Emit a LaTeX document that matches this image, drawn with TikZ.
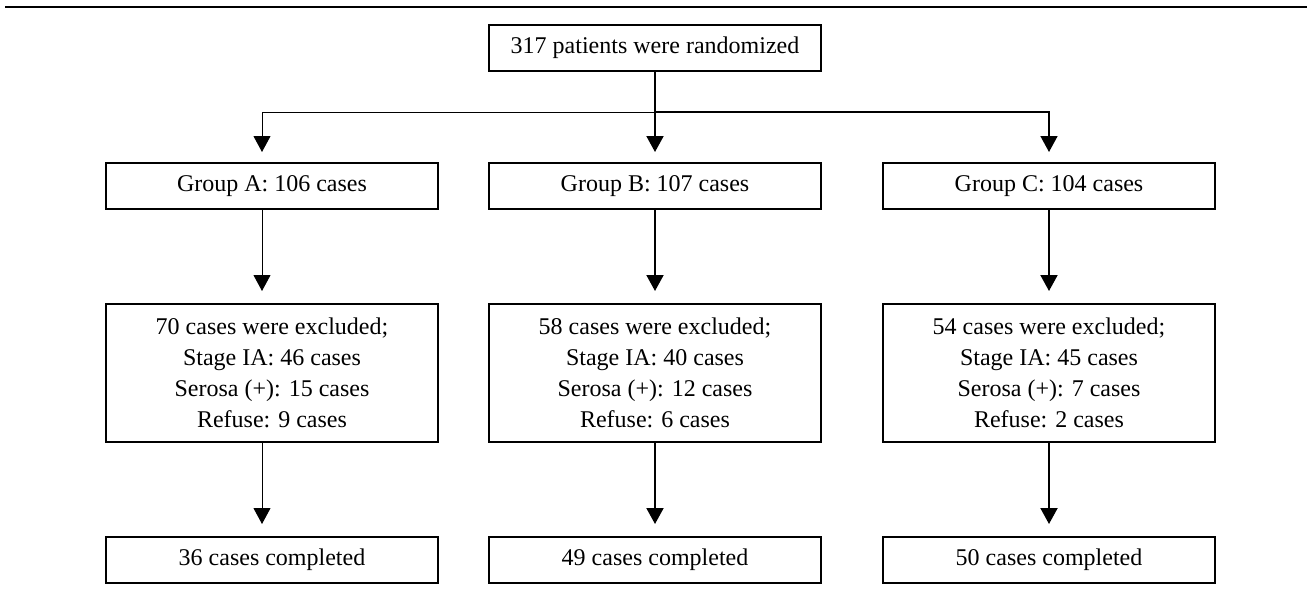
\documentclass[tikz,border=0pt]{standalone}
\usepackage{fontspec}
\setmainfont{Liberation Serif}
\usetikzlibrary{arrows.meta,positioning,calc}
\tikzset{
  grpbox/.style={
    draw=black,
    line width=1pt,
    minimum width=166pt,
    minimum height=23pt,
    inner sep=0pt,
    align=center,
    font=\fontsize{12}{15.6}\selectfont
  },
  excbox/.style={
    grpbox,
    minimum height=69pt
  },
  thinarrow/.style={-{Triangle[length=8pt,width=8.5pt]},line width=0.5pt,shorten >=5pt},
  thickarrow/.style={-{Triangle[length=8pt,width=8.5pt]},line width=1pt,shorten >=5pt},
  toprule/.style={line width=1.2pt}
}
\begin{document}
\begin{tikzpicture}[x=0.5pt,y=-0.5pt,node distance=46.5pt]
\useasboundingbox (0,0) rectangle (1308,605);
\node[grpbox] (grpA) at (272,186) {Group A: 106 cases};
\node[grpbox,right=24.5pt of grpA] (grpB) {Group B: 107 cases};
\node[grpbox,right=30pt of grpB] (grpC) {Group C: 104 cases};
\node[grpbox,above=45pt of grpB] (rand) {317 patients were randomized};
\node[excbox,below=of grpA] (excA) {70 cases were excluded;\\Stage IA: 46 cases\\Serosa (+): 15 cases\\Refuse: 9 cases};
\node[excbox,below=of grpB] (excB) {58 cases were excluded;\\Stage IA: 40 cases\\Serosa (+): 12 cases\\Refuse: 6 cases};
\node[excbox,below=of grpC] (excC) {54 cases were excluded;\\Stage IA: 45 cases\\Serosa (+): 7 cases\\Refuse: 2 cases};
\node[grpbox,below=of excA] (compA) {36 cases completed};
\node[grpbox,below=of excB] (compB) {49 cases completed};
\node[grpbox,below=of excC] (compC) {50 cases completed};
\coordinate (fork) at ($(rand.south)+(0,40)$);
\draw[toprule] (5,7) coordinate (ruleL) -- (1307,7) coordinate (ruleR);
\draw[thickarrow] (rand) -- (grpB);
\draw[thinarrow] (fork) -| ([xshift=-5pt]grpA.north);
\draw[thinarrow,line width=0.8pt] (fork) -| (grpC.north);
\draw[thinarrow,shorten >=6pt] ([xshift=-5pt]grpA.south) -- ([xshift=-5pt]excA.north);
\draw[thinarrow,shorten >=6pt] ([xshift=-5pt]excA.south) -- ([xshift=-5pt]compA.north);
\draw[thickarrow,shorten >=6pt] (grpB) -- (excB);
\draw[thickarrow,shorten >=6pt] (excB) -- (compB);
\draw[thickarrow,shorten >=6pt] (grpC) -- (excC);
\draw[thickarrow,shorten >=6pt] (excC) -- (compC);
\end{tikzpicture}
\end{document}
